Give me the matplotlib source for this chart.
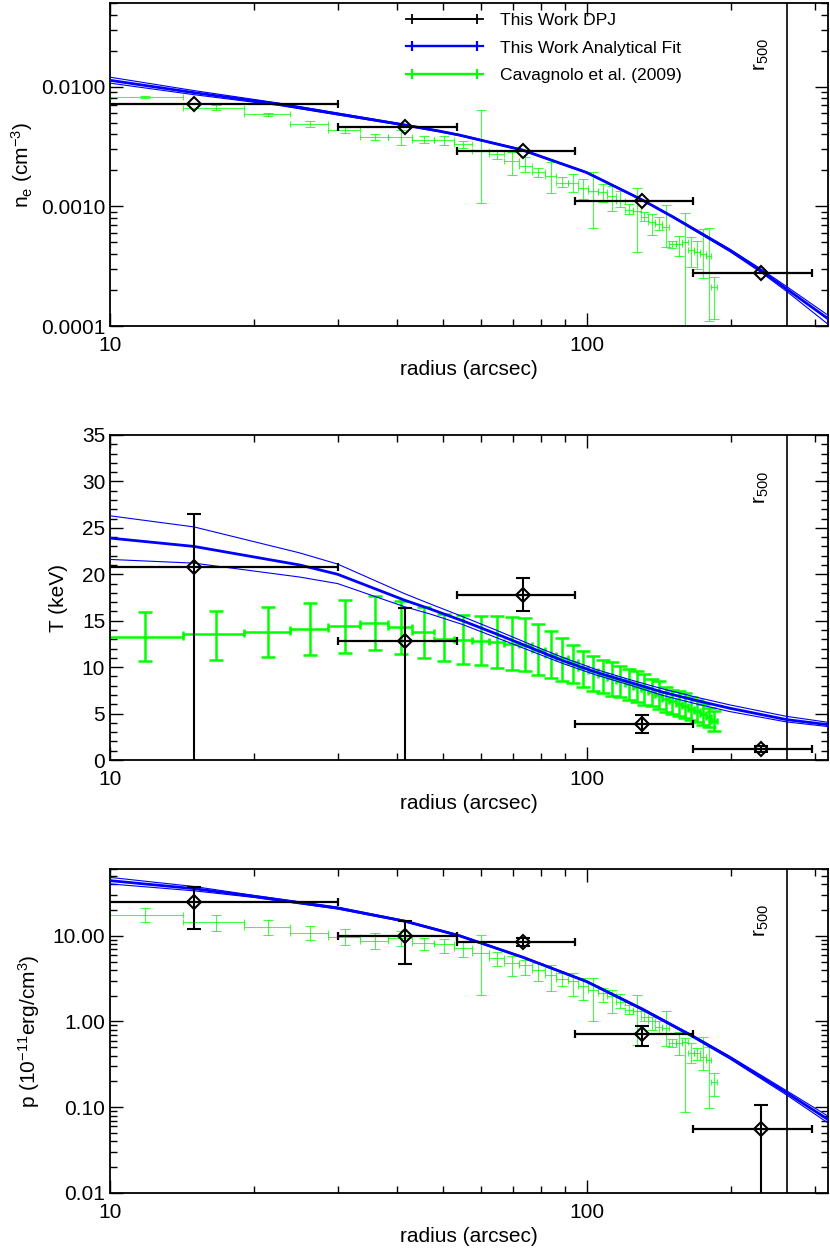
import numpy as np
import matplotlib
matplotlib.use('Agg')
import matplotlib.pyplot as plt
import matplotlib.transforms as mtransforms
from matplotlib.ticker import FixedLocator, FuncFormatter, NullFormatter, MultipleLocator, LogLocator
from matplotlib.container import ErrorbarContainer
from matplotlib.legend_handler import HandlerErrorbar
from matplotlib.lines import Line2D
from matplotlib.collections import LineCollection

plt.rcParams['font.family'] = ['Liberation Sans', 'DejaVu Sans']
plt.rcParams['mathtext.default'] = 'regular'

# ---------------- data ----------------
r500 = 262.0

# This work (DPJ) radial bins
r_dpj = [15.0, 41.5, 73.5, 130.6, 232.0]
r_dpj_in = [5.0, 30.0, 53.4, 94.5, 167.0]
r_dpj_out = [30.0, 53.4, 94.5, 167.0, 296.0]
ne_dpj = [7.2e-3, 4.64e-3, 2.89e-3, 1.11e-3, 2.77e-4]
T_dpj = [20.8, 12.8, 17.8, 3.88, 1.2]
T_dpj_lo = [-1.0, -1.0, 16.1, 2.87, 0.9]
T_dpj_hi = [26.5, 16.4, 19.6, 4.85, 1.5]
p_dpj = [24.5, 9.8, 8.44, 0.708, 0.0553]
p_dpj_lo = [11.9, 4.7, 7.5, 0.52, 0.001]
p_dpj_hi = [37.4, 15.0, 9.3, 0.885, 0.105]

# Analytical fit
r_fit_ne = [10, 15, 22.6, 41.7, 49, 54, 73.3, 99.7, 130.6, 151.6, 199.5, 232, 262, 320]
ne_fit = [0.0113, 8.91e-3, 7.13e-3, 4.76e-3, 4.25e-3, 3.94e-3, 2.95e-3, 1.92e-3,
          1.13e-3, 8.13e-4, 4.28e-4, 2.88e-4, 2.04e-4, 1.15e-4]
ne_fit_hi = [0.0120, 9.27e-3, 7.29e-3, 4.83e-3, 4.30e-3, 3.98e-3, 2.98e-3, 1.94e-3,
             1.14e-3, 8.24e-4, 4.38e-4, 2.98e-4, 2.14e-4, 1.23e-4]
ne_fit_lo = [0.0107, 8.57e-3, 6.97e-3, 4.70e-3, 4.20e-3, 3.89e-3, 2.92e-3, 1.90e-3,
             1.12e-3, 8.02e-4, 4.18e-4, 2.79e-4, 1.95e-4, 1.035e-4]

r_fit_T = [10, 15, 25, 30, 41.5, 46.7, 54.8, 64.4, 75.7, 88.9, 104.5, 122.8, 144.3, 169.6, 199.4, 262, 320]
T_fit = [23.9, 23.0, 21.0, 20.0, 17.2, 16.3, 15.0, 13.6, 12.15, 10.7, 9.45, 8.37, 7.3, 6.4, 5.57, 4.35, 3.8]
T_fit_hi = [26.3, 25.1, 22.3, 21.1, 17.9, 16.85, 15.45, 14.0, 12.5, 11.05, 9.75, 8.66, 7.65, 6.76, 5.93, 4.7, 4.06]
T_fit_lo = [21.6, 21.2, 19.7, 19.0, 16.5, 15.75, 14.6, 13.2, 11.8, 10.4, 9.15, 8.08, 6.95, 6.04, 5.21, 4.1, 3.6]

r_fit_p = [10, 15, 20, 30, 41.7, 54, 73.3, 99.7, 130.6, 167, 199.5, 262, 320]
p_fit = [43.9, 35.4, 28.8, 21.0, 14.7, 10.0, 5.62, 2.93, 1.39, 0.667, 0.378, 0.1476, 0.0719]
p_fit_hi = [47.9, 37.5, 29.6, 21.6, 15.0, 10.2, 5.71, 2.99, 1.43, 0.685, 0.391, 0.156, 0.0788]
p_fit_lo = [40.2, 33.4, 28.0, 20.5, 14.4, 9.84, 5.53, 2.88, 1.36, 0.649, 0.365, 0.139, 0.0656]

# Cavagnolo et al. (2009)
r_cav = [11.85, 16.65, 21.45, 26.25, 31.05, 35.85, 40.65, 45.45, 50.25, 55.05,
         59.85, 64.65, 69.45, 74.25, 79.05, 83.85, 88.65, 93.45, 98.25, 103.05,
         107.85, 112.65, 117.45, 122.25, 127.05, 131.85, 136.65, 141.45, 146.25, 151.05,
         155.85, 160.65, 165.45, 170.25, 175.05, 179.85, 184.65]
r_cav_halfwidth = 2.4
ne_cav = [8.20e-3, 6.68e-3, 5.89e-3, 4.86e-3, 4.34e-3, 3.81e-3, 3.76e-3, 3.60e-3, 3.55e-3, 3.31e-3,
          2.91e-3, 2.73e-3, 2.37e-3, 2.18e-3, 1.92e-3, 1.80e-3, 1.58e-3, 1.56e-3, 1.42e-3, 1.35e-3,
          1.31e-3, 1.23e-3, 1.11e-3, 9.38e-4, 9.20e-4, 8.20e-4, 7.36e-4, 7.13e-4, 6.68e-4, 4.86e-4,
          4.80e-4, 5.01e-4, 4.28e-4, 4.14e-4, 4.01e-4, 3.83e-4, 2.11e-4]
ne_cav_lo = [8.04e-3, 6.40e-3, 5.70e-3, 4.56e-3, 4.12e-3, 3.60e-3, 3.27e-3, 3.36e-3, 3.24e-3, 3.09e-3,
             1.06e-3, 2.48e-3, 1.84e-3, 1.95e-3, 1.77e-3, 1.28e-3, 1.44e-3, 1.31e-3, 1.15e-3, 6.61e-4,
             1.08e-3, 9.20e-4, 9.82e-4, 8.65e-4, 4.14e-4, 7.50e-4, 5.81e-4, 6.31e-4, 4.61e-4, 4.50e-4,
             3.88e-4, 1.0e-6, 3.10e-4, 3.00e-4, 2.51e-4, 1.11e-4, 1.14e-4]
ne_cav_hi = [8.38e-3, 6.98e-3, 6.08e-3, 5.19e-3, 4.56e-3, 4.01e-3, 4.33e-3, 3.84e-3, 3.89e-3, 3.51e-3,
             6.40e-3, 2.95e-3, 2.82e-3, 2.56e-3, 2.11e-3, 2.33e-3, 1.75e-3, 1.88e-3, 1.69e-3, 1.92e-3,
             1.53e-3, 1.48e-3, 1.35e-3, 1.05e-3, 1.42e-3, 8.91e-4, 8.65e-4, 8.09e-4, 1.03e-3, 5.18e-4,
             5.70e-4, 8.75e-4, 5.52e-4, 5.18e-4, 6.47e-4, 6.56e-4, 2.55e-4]

T_cav = [13.3, 13.52, 13.77, 14.06, 14.42, 14.74, 14.3, 13.77, 13.06, 12.87,
         12.77, 12.69, 12.5, 12.41, 11.9, 11.36, 11.0, 10.53, 9.93, 9.56,
         9.2, 8.85, 8.48, 8.2, 7.91, 7.66, 7.3, 7.0, 6.58, 6.32,
         6.04, 5.86, 5.5, 5.25, 4.96, 4.6, 4.17]
T_cav_lo = [10.7, 10.8, 11.04, 11.29, 11.55, 11.8, 11.44, 11.0, 10.64, 10.36,
            10.18, 9.93, 9.71, 9.56, 9.17, 8.81, 8.56, 8.31, 7.91, 7.48,
            7.19, 6.94, 6.76, 6.47, 6.22, 5.97, 5.79, 5.5, 5.14, 4.96,
            4.78, 4.49, 4.32, 4.06, 3.78, 3.52, 3.09]
T_cav_hi = [15.93, 16.1, 16.5, 16.87, 17.27, 17.7, 17.1, 16.5, 15.75, 15.65,
            15.46, 15.46, 15.39, 15.32, 14.6, 13.85, 13.12, 12.41, 11.69, 11.15,
            10.82, 10.53, 10.07, 9.82, 9.56, 9.28, 8.74, 8.56, 7.84, 7.59,
            7.4, 7.19, 6.76, 6.48, 6.04, 5.57, 5.25]

p_cav = [17.6, 14.3, 12.6, 10.7, 9.64, 8.59, 9.40, 8.22, 8.04, 7.18,
         6.28, 5.50, 4.80, 4.50, 4.01, 3.51, 3.12, 2.93, 2.56, 2.30,
         2.14, 1.96, 1.71, 1.37, 1.31, 1.14, 1.00, 0.873, 0.836, 0.560,
         0.560, 0.569, 0.428, 0.428, 0.390, 0.357, 0.196]
p_cav_lo = [14.3, 11.5, 10.3, 8.81, 7.85, 7.05, 7.50, 6.87, 6.27, 5.64,
            2.05, 4.39, 3.41, 3.51, 2.99, 2.24, 2.56, 2.00, 1.79, 1.02,
            1.71, 1.27, 1.43, 1.23, 0.533, 1.00, 0.80, 0.731, 0.520, 0.501,
            0.408, 0.087, 0.327, 0.357, 0.273, 0.098, 0.136]
p_cav_hi = [21.0, 17.3, 15.4, 12.9, 12.0, 10.7, 11.4, 9.40, 9.23, 8.51,
            10.3, 6.38, 5.85, 5.25, 4.80, 4.58, 3.67, 3.67, 3.21, 3.21,
            2.45, 2.30, 2.10, 1.57, 2.05, 1.31, 1.14, 1.00, 1.31, 0.624,
            0.75, 0.640, 0.560, 0.489, 0.658, 0.50, 0.253]

# ---------------- figure ----------------
fig = plt.figure(figsize=(8.30, 12.52), dpi=100)
L, W = 110 / 830, 718 / 830
ax1 = fig.add_axes([L, 1 - 326 / 1252, W, 323 / 1252])
ax2 = fig.add_axes([L, 1 - 760 / 1252, W, 325 / 1252])
ax3 = fig.add_axes([L, 1 - 1193 / 1252, W, 324 / 1252])

BLACK = 'black'
BLUE = '#0000ff'
GREEN = '#00ff00'
FS = 15

r_dpj_a = np.array(r_dpj)
dpj_xerr = [r_dpj_a - np.array(r_dpj_in), np.array(r_dpj_out) - r_dpj_a]
r_cav_a = np.array(r_cav)


def asym(c, lo, hi):
    c = np.array(c)
    return [c - np.array(lo), np.array(hi) - c]


def draw_cav(ax, y, lo, hi, lw, ycap, xcap, alpha):
    ax.errorbar(r_cav_a, y, yerr=asym(y, lo, hi), fmt='none', ecolor=GREEN,
                elinewidth=lw, capsize=ycap, capthick=lw, alpha=alpha, zorder=2)
    ax.errorbar(r_cav_a, y, xerr=r_cav_halfwidth, fmt='none', ecolor=GREEN,
                elinewidth=lw, capsize=xcap, capthick=lw, alpha=alpha, zorder=2)


def draw_fit(ax, r, c, lo, hi):
    ax.plot(r, hi, color=BLUE, lw=0.8, zorder=3)
    ax.plot(r, lo, color=BLUE, lw=0.8, zorder=3)
    ax.plot(r, c, color=BLUE, lw=2.0, zorder=3)


def draw_dpj(ax, y, yerr=None):
    ax.errorbar(r_dpj_a, y, xerr=dpj_xerr, fmt='none', ecolor=BLACK,
                elinewidth=1.6, capsize=3.2, capthick=1.6, zorder=4)
    if yerr is not None:
        ax.errorbar(r_dpj_a, y, yerr=yerr, fmt='none', ecolor=BLACK,
                    elinewidth=1.5, capsize=5.0, capthick=1.5, zorder=4)
    ax.plot(r_dpj_a, y, linestyle='none', marker='D', ms=7.5, mfc='none',
            mec=BLACK, mew=1.5, zorder=5)


# top: density
draw_cav(ax1, ne_cav, ne_cav_lo, ne_cav_hi, 0.8, 3.6, 2.0, 0.75)
draw_fit(ax1, r_fit_ne, ne_fit, ne_fit_lo, ne_fit_hi)
draw_dpj(ax1, ne_dpj)
ax1.set_yscale('log')
ax1.set_ylim(1e-4, 0.05)
ax1.yaxis.set_major_locator(FixedLocator([1e-4, 1e-3, 1e-2]))
ax1.yaxis.set_major_formatter(FuncFormatter(lambda v, p: '%.4f' % v))
ax1.set_ylabel('n$_e$ (cm$^{-3}$)', fontsize=FS)

# middle: temperature
draw_cav(ax2, T_cav, T_cav_lo, T_cav_hi, 1.8, 5.2, 2.5, 1.0)
draw_fit(ax2, r_fit_T, T_fit, T_fit_lo, T_fit_hi)
draw_dpj(ax2, T_dpj, asym(T_dpj, T_dpj_lo, T_dpj_hi))
ax2.set_ylim(0, 35)
ax2.yaxis.set_major_locator(MultipleLocator(5))
ax2.yaxis.set_minor_locator(MultipleLocator(1))
ax2.yaxis.set_major_formatter(FuncFormatter(lambda v, p: '%d' % round(v)))
ax2.set_ylabel('T (keV)', fontsize=FS, labelpad=10)

# bottom: pressure
draw_cav(ax3, p_cav, p_cav_lo, p_cav_hi, 0.8, 3.6, 2.0, 0.75)
draw_fit(ax3, r_fit_p, p_fit, p_fit_lo, p_fit_hi)
draw_dpj(ax3, p_dpj, asym(p_dpj, p_dpj_lo, p_dpj_hi))
ax3.set_yscale('log')
ax3.set_ylim(0.01, 60)
ax3.yaxis.set_major_locator(FixedLocator([0.01, 0.1, 1, 10]))
ax3.yaxis.set_major_formatter(FuncFormatter(lambda v, p: '%.2f' % v))
ax3.set_ylabel('p (10$^{-11}$erg/cm$^3$)', fontsize=FS, labelpad=7.5)

for ax in (ax1, ax2, ax3):
    ax.set_xscale('log')
    ax.set_xlim(10, 320)
    ax.xaxis.set_major_locator(FixedLocator([10, 100]))
    ax.xaxis.set_major_formatter(FuncFormatter(lambda v, p: '%d' % round(v)))
    ax.xaxis.set_minor_locator(LogLocator(base=10, subs=np.arange(2, 10)))
    ax.xaxis.set_minor_formatter(NullFormatter())
    if ax.get_yscale() == 'log':
        ax.yaxis.set_minor_locator(LogLocator(base=10, subs=np.arange(2, 10)))
        ax.yaxis.set_minor_formatter(NullFormatter())
    ax.tick_params(which='both', direction='in', top=True, right=True, labelsize=FS, width=1.0)
    ax.tick_params(which='major', length=9.5)
    ax.tick_params(which='minor', length=4.8)
    ax.tick_params(axis='x', which='major', pad=7)
    for s in ax.spines.values():
        s.set_linewidth(1.3)
    ax.set_xlabel('radius (arcsec)', fontsize=FS, labelpad=4)
    ax.axvline(r500, color=BLACK, lw=1.2, zorder=1)
    trans = mtransforms.blended_transform_factory(ax.transData, ax.transAxes)
    ax.text(232, 0.84, 'r$_{500}$', transform=trans, rotation=90,
            ha='center', va='center', fontsize=FS)

# legend
def proxy(color, lw):
    line = Line2D([], [], color=color, lw=lw)
    cap = Line2D([], [], color=color, lw=lw, marker='|', markersize=7.5,
                 markeredgewidth=lw, linestyle='none')
    bars = LineCollection([], colors=color, linewidths=lw)
    return ErrorbarContainer((line, (cap, cap), (bars,)), has_xerr=True, has_yerr=False)

handles = [proxy(BLACK, 1.3), proxy(BLUE, 1.6), proxy(GREEN, 1.6)]
labels = ['This Work DPJ', 'This Work Analytical Fit', 'Cavagnolo et al. (2009)']
ax1.legend(handles, labels, loc='upper left', bbox_to_anchor=(0.412, 0.969),
           frameon=False, fontsize=12.6, handlelength=4.4, handletextpad=1.0,
           labelspacing=0.69, borderpad=0, borderaxespad=0,
           handler_map={ErrorbarContainer: HandlerErrorbar(xerr_size=1.85)})

fig.savefig('out.png', dpi=100)
